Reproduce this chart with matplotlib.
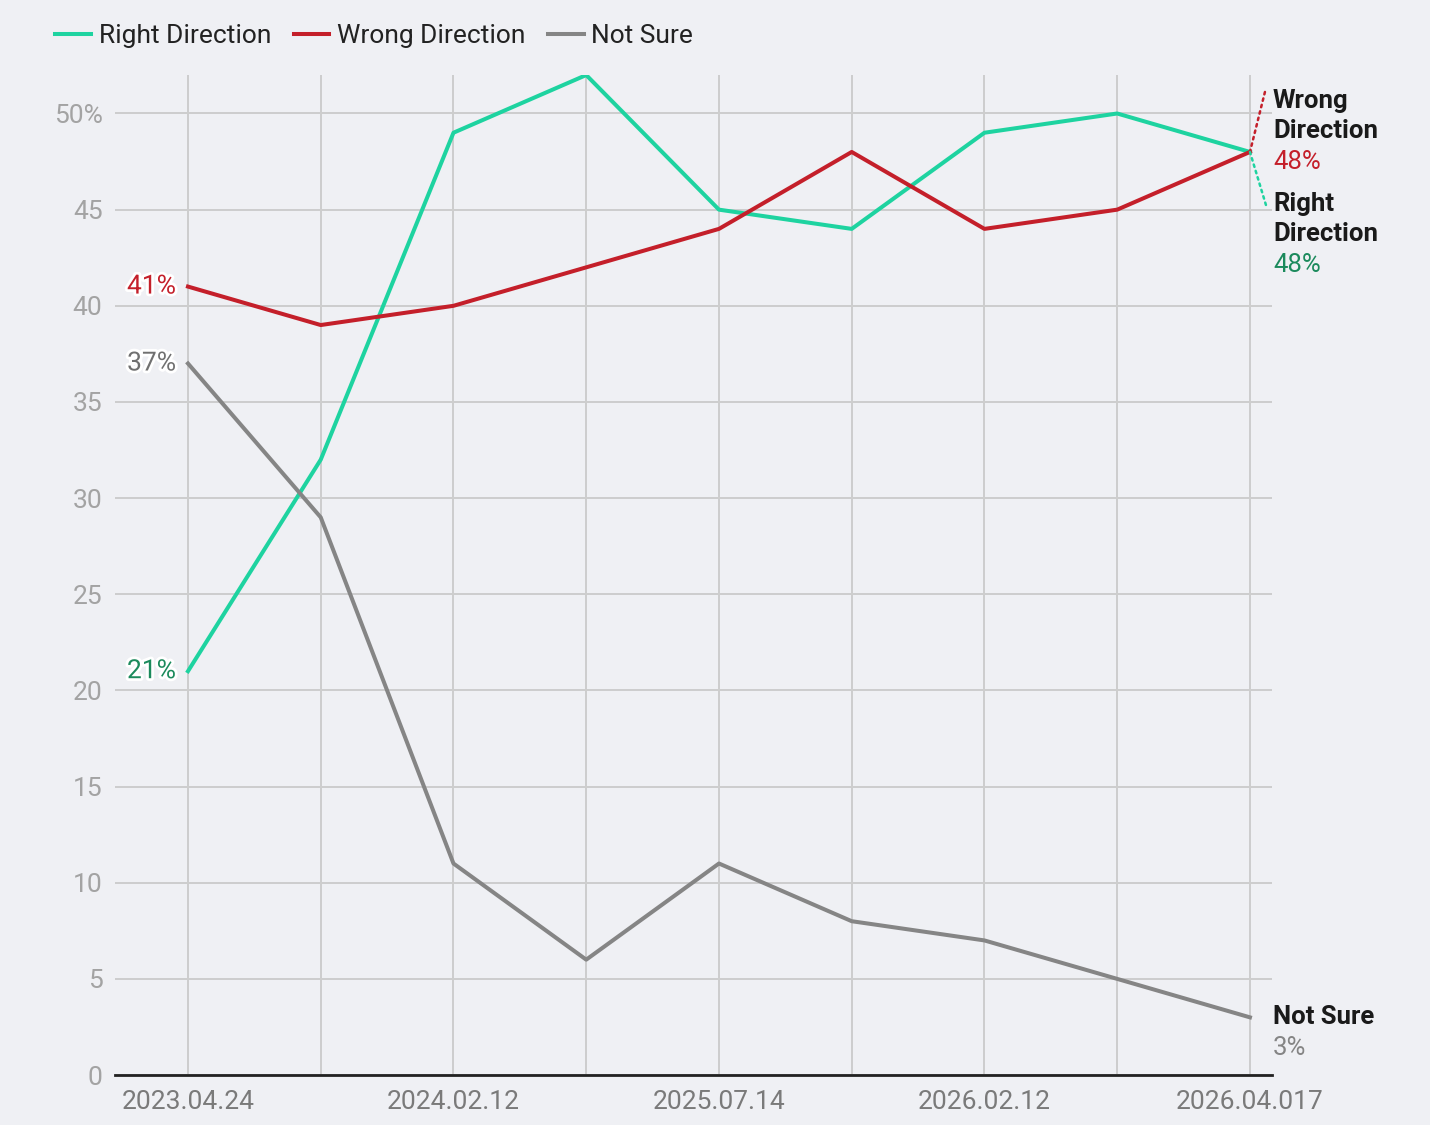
import matplotlib.pyplot as plt
import matplotlib.patheffects as pe

# data
dates = ['2023.04.24', '', '2024.02.12', '', '2025.07.14', '', '2026.02.12', '', '2026.04.017']
right_dir = [21, 32, 49, 52, 45, 44, 49, 50, 48]
wrong_dir = [41, 39, 40, 42, 44, 48, 44, 45, 48]
not_sure = [37, 29, 11, 6, 11, 8, 7, 5, 3]
yticks = [0, 5, 10, 15, 20, 25, 30, 35, 40, 45, 50]
ytick_labels = ['0', '5', '10', '15', '20', '25', '30', '35', '40', '45', '50%']

GREEN = '#1ed3a0'
GREEN_TXT = '#1b8a5c'
RED = '#c41f2a'
GRAY = '#858585'
BG = '#eff0f4'

plt.rcParams['font.family'] = ['Roboto', 'DejaVu Sans']

fig = plt.figure(figsize=(14.3, 11.25), dpi=100, facecolor=BG)
ax = fig.add_axes([0.0804, 0.0444, 0.8091, 0.8889], facecolor=BG)

x = list(range(len(dates)))
ax.plot(x, right_dir, color=GREEN, lw=2.9, label='Right Direction', zorder=3)
ax.plot(x, wrong_dir, color=RED, lw=2.9, label='Wrong Direction', zorder=3)
ax.plot(x, not_sure, color=GRAY, lw=2.9, label='Not Sure', zorder=3)

ax.set_xlim(-0.55, 8.166)
ax.set_ylim(0, 52)
ax.set_xticks(x)
ax.set_xticklabels(dates)
ax.set_yticks(yticks)
ax.set_yticklabels(ytick_labels)
ax.grid(True, color='#cdcdcd', lw=1.4, zorder=1)
ax.tick_params(length=0)
ax.tick_params(axis='y', labelsize=19, labelcolor='#a3a3a3', pad=9)
ax.tick_params(axis='x', labelsize=19, labelcolor='#7a7a7a', pad=11)
for s in ['top', 'right', 'left']:
    ax.spines[s].set_visible(False)
ax.spines['bottom'].set_color('#222222')
ax.spines['bottom'].set_linewidth(2)
ax.spines['bottom'].set_zorder(4)

# start labels with white halo
halo = [pe.withStroke(linewidth=4, foreground='white')]
for vals, col in [(wrong_dir, RED), (not_sure, '#707070'), (right_dir, GREEN_TXT)]:
    ax.annotate(f'{vals[0]}%', (0, vals[0]), xytext=(-12, 0), textcoords='offset pixels',
                ha='right', va='center', fontsize=19, color=col, path_effects=halo)

# end labels
last = len(x) - 1

def end_label(val, dy, lines, pct_col, dx=23):
    for i, (txt, bold) in enumerate(lines):
        ax.annotate(txt, (last, val), xytext=(dx, dy - 30.5 * i), textcoords='offset pixels',
                    ha='left', va='center', fontsize=18.5,
                    fontweight='bold' if bold else 'normal',
                    color='#1a1a1a' if bold else pct_col, annotation_clip=False)

end_label(wrong_dir[-1], 51, [('Wrong', True), ('Direction', True), (f'{wrong_dir[-1]}%', False)], RED)
end_label(right_dir[-1], -52, [('Right', True), ('Direction', True), (f'{right_dir[-1]}%', False)], GREEN_TXT)
end_label(not_sure[-1], 0, [('Not Sure', True), (f'{not_sure[-1]}%', False)], GRAY)

# dotted leader lines
ax.annotate('', xy=(last, wrong_dir[-1]), xytext=(15, 60), textcoords='offset pixels',
            arrowprops=dict(arrowstyle='-', linestyle=':', color=RED, lw=1.8,
                            shrinkA=0, shrinkB=0), annotation_clip=False)
ax.annotate('', xy=(last, right_dir[-1]), xytext=(16, -53), textcoords='offset pixels',
            arrowprops=dict(arrowstyle='-', linestyle=':', color=GREEN, lw=1.8,
                            shrinkA=0, shrinkB=0), annotation_clip=False)

fig.legend(loc='upper left', bbox_to_anchor=(0.022, 1.0), ncol=3, frameon=False,
           fontsize=19, handlelength=1.35, handletextpad=0.3, columnspacing=0.85,
           labelcolor='#222222')

fig.savefig('out.png', dpi=100, facecolor=BG)
